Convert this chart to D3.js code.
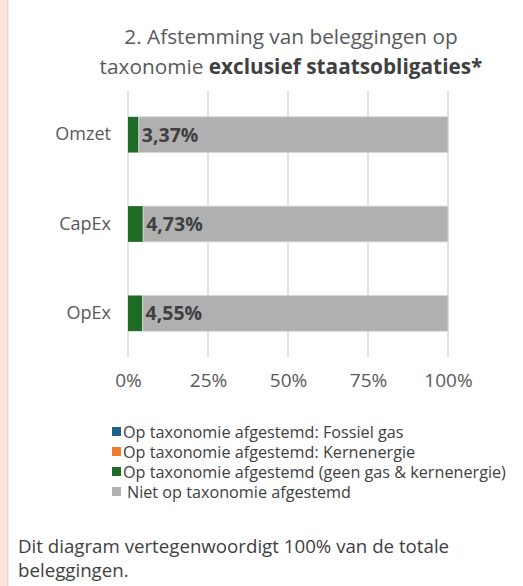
<!DOCTYPE html>
<html>
<head>
<meta charset="utf-8">
<script src="https://cdn.jsdelivr.net/npm/d3@7"></script>
<style>
  body { margin: 0; background: #fff; }
  svg { display: block; font-family: "Open Sans", sans-serif; }
</style>
</head>
<body>
<svg id="chart"></svg>
<script>
// Data
const categories = ["Omzet", "CapEx", "OpEx"];
const seriesNames = [
    "Op taxonomie afgestemd: Fossiel gas",
    "Op taxonomie afgestemd: Kernenergie",
    "Op taxonomie afgestemd (geen gas & kernenergie)",
    "Niet op taxonomie afgestemd"
];
const fossielGas = [0, 0, 0];
const kernenergie = [0, 0, 0];
const aligned = [3.37, 4.73, 4.55];
const notAligned = [96.63, 95.27, 95.45];
const xTicks = [0, 25, 50, 75, 100];
const colors = ["#1f5f8b", "#ed7d31", "#1e6b26", "#b0b0b0"];

const width = 523;
const height = 586;

const svg = d3.select("#chart")
    .attr("width", width)
    .attr("height", height);

// Left pink strip of the surrounding page
svg.append("rect").attr("x", 0).attr("y", 0).attr("width", 7).attr("height", height).attr("fill", "#fde3d8");
svg.append("rect").attr("x", 7).attr("y", 0).attr("width", 1.5).attr("height", height).attr("fill", "#dcdcdc");

// Title
const title = svg.append("text")
    .attr("text-anchor", "middle")
    .attr("fill", "#595959")
    .style("font-size", "20.8px");
title.append("tspan").attr("x", 291).attr("y", 44).text("2. Afstemming van beleggingen op");
const t2 = title.append("tspan").attr("x", 291).attr("y", 74);
t2.append("tspan").text("taxonomie ");
t2.append("tspan").attr("font-weight", "bold").attr("fill", "#404040").text("exclusief staatsobligaties*");

// Scales
const x = d3.scaleLinear().domain([0, 100]).range([128, 448]);
const y = d3.scaleBand().domain(categories).range([90, 358]).paddingInner(0.6).paddingOuter(0.3);

// Gridlines
svg.append("g")
    .selectAll("line")
    .data(xTicks)
    .join("line")
    .attr("x1", d => x(d)).attr("x2", d => x(d))
    .attr("y1", 90).attr("y2", 358)
    .attr("stroke", "#d9d9d9")
    .attr("stroke-width", 1.5);

// Stacked bars
const rows = categories.map((c, i) => ({
    cat: c,
    s0: fossielGas[i],
    s1: kernenergie[i],
    s2: aligned[i],
    s3: notAligned[i]
}));
const stack = d3.stack().keys(["s0", "s1", "s2", "s3"]);
const layers = stack(rows);

svg.append("g")
    .selectAll("g")
    .data(layers)
    .join("g")
    .attr("fill", (d, i) => colors[i])
    .attr("stroke", (d, i) => i === 3 ? "#d4d4d4" : "none")
    .attr("stroke-width", 1)
    .selectAll("rect")
    .data(d => d)
    .join("rect")
    .attr("x", d => x(d[0]))
    .attr("y", d => y(d.data.cat))
    .attr("width", d => x(d[1]) - x(d[0]))
    .attr("height", y.bandwidth());

// Data labels (Dutch decimal comma)
const nl = d3.formatLocale({ decimal: ",", thousands: ".", grouping: [3], currency: ["€", ""] });
const fmt = nl.format(".2f");
svg.append("g")
    .selectAll("text")
    .data(rows)
    .join("text")
    .attr("x", d => x(d.s0 + d.s1 + d.s2) + 3)
    .attr("y", d => y(d.cat) + y.bandwidth() / 2)
    .attr("dy", "0.36em")
    .attr("fill", "#404040")
    .attr("font-weight", "bold")
    .style("font-size", "19.5px")
    .text(d => fmt(d.s2) + "%");

// Y axis labels
const yAxis = d3.axisLeft(y).tickSize(0).tickPadding(17);
svg.append("g")
    .attr("transform", `translate(${x(0)},0)`)
    .call(yAxis)
    .call(g => g.select(".domain").remove())
    .call(g => g.selectAll("text").attr("fill", "#595959").style("font-size", "18px").style("font-family", "'Open Sans', sans-serif"));

// X axis labels
const xAxis = d3.axisBottom(x).tickValues(xTicks).tickSize(0).tickPadding(16).tickFormat(d => d + "%");
svg.append("g")
    .attr("transform", "translate(0,358)")
    .call(xAxis)
    .call(g => g.select(".domain").remove())
    .call(g => g.selectAll("text").attr("fill", "#595959").style("font-size", "19px").style("font-family", "'Open Sans', sans-serif"));

// Legend
const legend = svg.append("g").attr("transform", "translate(112,0)");
const items = legend.selectAll("g")
    .data(seriesNames)
    .join("g")
    .attr("transform", (d, i) => `translate(0,${432 + i * 20})`);
items.append("rect")
    .attr("x", 0).attr("y", -5)
    .attr("width", 9).attr("height", 9)
    .attr("fill", (d, i) => colors[i]);
items.append("text")
    .attr("x", (d, i) => i === 3 ? 15 : 11)
    .attr("dy", "0.35em")
    .attr("fill", "#404040")
    .style("font-size", "16.2px")
    .text(d => d);

// Footnote
const note = svg.append("text")
    .attr("fill", "#404040")
    .style("font-size", "18.7px");
note.append("tspan").attr("x", 18).attr("y", 553).text("Dit diagram vertegenwoordigt 100% van de totale");
note.append("tspan").attr("x", 18).attr("y", 577).text("beleggingen.");
</script>
</body>
</html>
